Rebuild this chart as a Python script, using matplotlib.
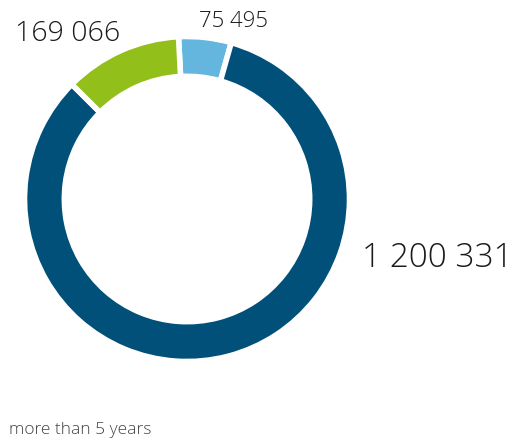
import matplotlib
matplotlib.use("Agg")
import matplotlib.pyplot as plt

labels = ["75 495", "1 200 331", "169 066"]
values = [75495, 1200331, 169066]
colors = ["#65b6df", "#00507a", "#93bf1b"]
caption = "more than 5 years"

W, H = 526, 438
fig = plt.figure(figsize=(W / 100, H / 100), dpi=100)
plt.rcParams['font.family'] = ['Open Sans', 'DejaVu Sans']

cx, cy, R = 187, 199, 162.5
ax = fig.add_axes([(cx - R) / W, (H - cy - R) / H, 2 * R / W, 2 * R / H])
ax.pie(values, colors=colors, startangle=93, counterclock=False, radius=1,
       wedgeprops=dict(width=0.245, edgecolor="white", linewidth=4))
ax.set_xlim(-1, 1)
ax.set_ylim(-1, 1)
ax.axis("off")

def ptext(x, y, s, size, color="#1a1a1a"):
    fig.text(x / W, 1 - y / H, s, fontsize=size, color=color,
             ha="left", va="baseline", fontweight="light")

ptext(199, 27, labels[0], 16)
ptext(362, 267, labels[1], 24)
ptext(15, 41, labels[2], 20.5)
ptext(9, 434, caption, 12.5, color="#444444")

fig.savefig("out.png", dpi=100)
